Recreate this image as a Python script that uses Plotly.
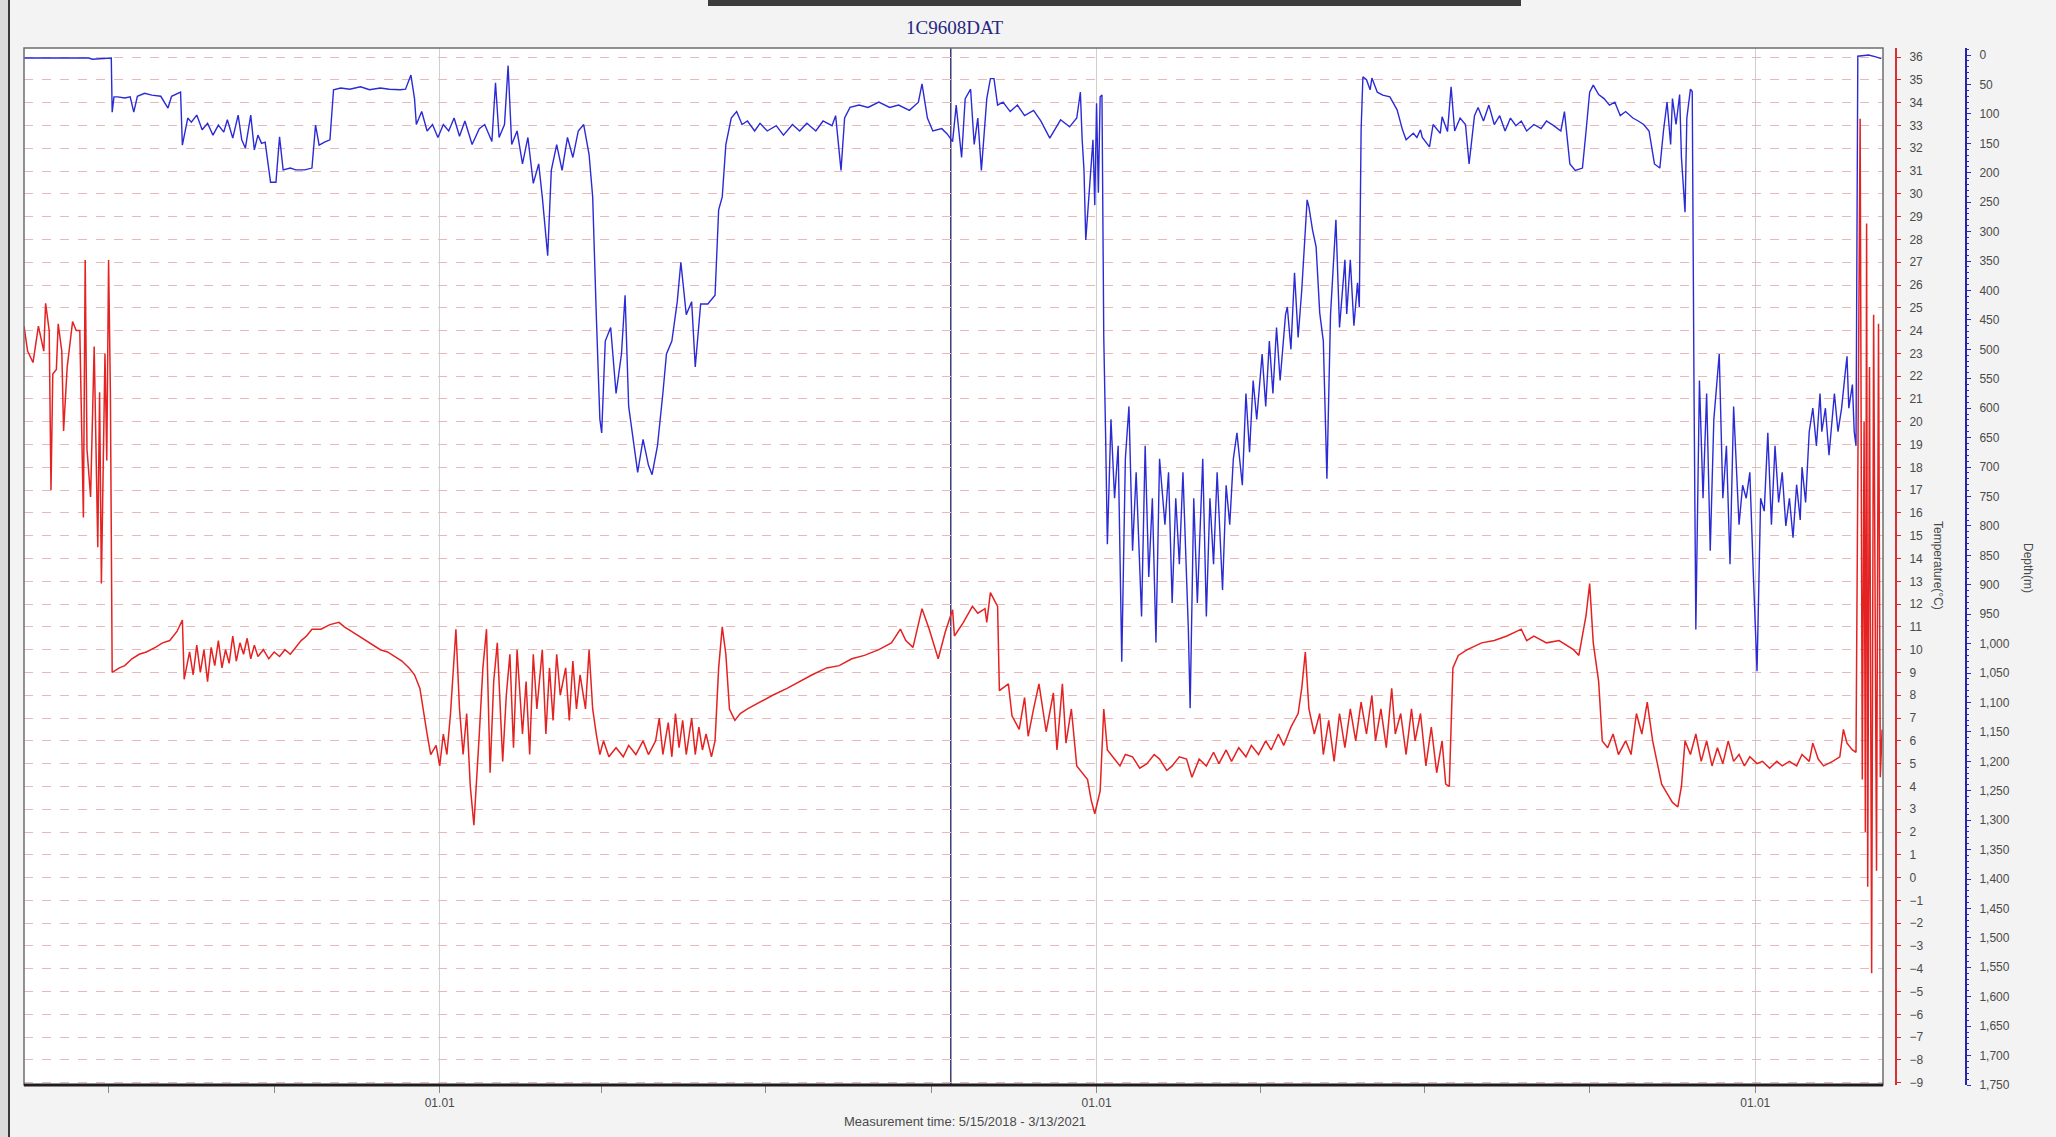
import pandas as pd
import plotly.graph_objects as go

# Measurement window
START = pd.Timestamp("2018-05-15")
END = pd.Timestamp("2021-03-13")
CURSOR_DATE = "2019-10-12"

# Depth log (days since start, metres)
depth_days = [
    0, 20, 36, 38, 42, 47, 48.5, 49, 50, 52, 56, 59, 61, 63, 67, 71, 76, 80, 82, 87,
    88, 91, 93, 96, 99, 102, 105, 108, 111, 113, 116, 119, 121, 123, 126, 128, 130, 132, 134, 137,
    140, 142, 144, 148, 151, 156, 160, 162, 164, 167, 170, 172, 176, 181, 187, 192, 198, 203, 209, 212,
    215, 217, 218, 221, 224, 227, 230, 233, 236, 239, 242, 245, 249, 253, 256, 260, 262, 264, 267, 269,
    271, 274, 277, 280, 283, 286, 288, 291, 293, 296, 299, 302, 305, 308, 311, 314, 316, 318, 320, 321,
    323, 326, 329, 332, 334, 336, 339, 341, 344, 347, 349, 352, 355, 357, 360, 363, 365, 368, 371, 373,
    376, 380, 384, 386, 388, 390, 393, 396, 399, 402, 406, 409, 413, 418, 422, 427, 431, 435, 440, 444,
    449, 451, 454, 456, 459, 464, 469, 475, 481, 486, 492, 497, 499, 502, 505, 510, 513, 516, 518, 521,
    523, 526, 528, 530, 532, 535, 537, 539, 541, 544, 548, 552, 556, 561, 565, 570, 576, 581, 585, 587,
    588, 589, 590, 592, 594, 595, 596, 597, 598, 599, 600, 601, 602, 604, 606, 608, 610, 612, 614, 616,
    618, 621, 623, 625, 627, 629, 631, 634, 636, 638, 640, 642, 644, 647, 648, 650, 652, 655, 657, 659,
    661, 663, 666, 668, 670, 672, 674, 677, 679, 681, 683, 685, 688, 690, 692, 694, 696, 698, 701, 702,
    704, 706, 708, 710, 713, 714, 716, 718, 720, 722, 724, 726, 729, 731, 733, 734, 735, 737, 739, 741,
    742, 743, 744, 746, 748, 749, 752, 755, 759, 763, 766, 768, 772, 774, 776, 777, 781, 783, 787, 788,
    791, 793, 795, 798, 801, 803, 806, 808, 811, 814, 817, 820, 823, 826, 829, 832, 835, 839, 843, 846,
    850, 854, 856, 859, 862, 866, 868, 870, 872, 875, 878, 881, 884, 887, 890, 894, 897, 900, 903, 906,
    909, 911, 913, 915, 916, 918, 920, 921, 923, 924, 926, 927, 928, 929, 931, 933, 935, 937, 939, 942,
    944, 946, 948, 950, 953, 955, 957, 959, 961, 963, 965, 967, 969, 971, 973, 975, 977, 979, 981, 983,
    985, 987, 988, 990, 992, 994, 996, 998, 999, 1001, 1003, 1005, 1006, 1008, 1010, 1012, 1013, 1014, 1016, 1017,
    1018, 1019, 1025, 1029, 1032,
]
depth_m = [
    5, 5, 5, 7, 6, 5, 5, 97, 71, 71, 73, 71, 97, 70, 65, 68, 70, 90, 70, 63,
    153, 107, 114, 102, 127, 116, 136, 119, 131, 110, 141, 102, 144, 158, 102, 161, 136, 150, 148, 216,
    216, 139, 195, 192, 195, 195, 192, 119, 153, 148, 144, 59, 56, 58, 54, 59, 56, 58, 59, 58,
    34, 74, 118, 96, 129, 118, 140, 118, 129, 107, 138, 112, 152, 125, 118, 147, 47, 140, 118, 18,
    152, 129, 185, 140, 218, 185, 241, 341, 196, 152, 196, 140, 174, 129, 118, 169, 241, 441, 619, 642,
    486, 463, 575, 508, 408, 597, 664, 709, 653, 697, 713, 664, 575, 508, 486, 419, 352, 441, 419, 530,
    423, 423, 408, 263, 241, 152, 107, 96, 118, 112, 129, 116, 129, 120, 136, 118, 129, 116, 129, 112,
    120, 103, 196, 107, 89, 85, 89, 80, 89, 85, 94, 80, 49, 107, 129, 125, 134, 147, 85, 174,
    74, 58, 152, 107, 196, 74, 40, 40, 85, 80, 96, 85, 103, 94, 112, 141, 110, 122, 107, 63,
    144, 195, 314, 234, 144, 255, 82, 234, 71, 68, 480, 642, 831, 619, 753, 664, 1031, 686, 597, 842,
    709, 954, 664, 887, 753, 998, 686, 798, 709, 931, 753, 865, 709, 976, 1110, 753, 931, 686, 954, 753,
    865, 709, 909, 731, 798, 686, 642, 731, 575, 675, 553, 619, 508, 597, 486, 575, 463, 553, 441, 428,
    500, 370, 480, 400, 246, 258, 297, 326, 438, 486, 720, 441, 280, 463, 394, 348, 440, 348, 460, 387,
    428, 127, 37, 42, 59, 39, 63, 68, 71, 93, 127, 144, 133, 140, 127, 140, 156, 118, 133, 105,
    130, 54, 129, 107, 118, 185, 103, 89, 112, 85, 118, 103, 129, 107, 120, 112, 129, 118, 125, 112,
    120, 129, 96, 185, 196, 192, 129, 63, 51, 67, 74, 85, 80, 103, 96, 107, 112, 118, 129, 185,
    192, 129, 80, 152, 74, 118, 67, 174, 267, 107, 58, 62, 575, 976, 553, 753, 575, 842, 619, 508,
    753, 664, 865, 597, 798, 731, 753, 709, 887, 1047, 753, 775, 642, 798, 664, 760, 709, 800, 753, 820,
    730, 790, 700, 760, 640, 600, 664, 575, 640, 600, 680, 610, 575, 640, 600, 540, 512, 600, 560, 640,
    664, 2, 0, 3, 6,
]

# Temperature log (days since start, degrees C)
temp_days = [
    0, 2, 5, 8, 11, 12, 14, 15, 16, 18, 19, 21, 22, 24, 27, 29, 31, 33, 34, 35,
    37, 39, 41, 42, 43, 45, 46, 47, 48, 49, 53, 56, 60, 64, 68, 73, 77, 81, 85, 88,
    89, 92, 94, 96, 98, 100, 102, 104, 106, 108, 110, 112, 114, 116, 118, 120, 122, 124, 126, 128,
    130, 133, 136, 139, 142, 145, 148, 151, 154, 157, 160, 165, 170, 175, 178, 182, 186, 190, 194, 198,
    202, 206, 210, 214, 217, 220, 222, 224, 226, 229, 231, 233, 235, 237, 240, 242, 244, 246, 248, 250,
    253, 255, 257, 259, 261, 263, 266, 268, 270, 272, 274, 277, 279, 281, 283, 285, 288, 290, 292, 294,
    296, 298, 301, 303, 305, 307, 309, 312, 314, 316, 318, 320, 322, 325, 329, 333, 336, 340, 344, 347,
    351, 353, 355, 358, 360, 362, 364, 366, 368, 371, 373, 375, 377, 379, 382, 384, 386, 388, 390, 392,
    395, 398, 402, 409, 416, 424, 431, 438, 446, 453, 460, 467, 475, 482, 487, 490, 494, 499, 503, 508,
    512, 516, 517, 522, 527, 530, 534, 535, 537, 541, 542, 547, 549, 553, 556, 558, 561, 564, 568, 572,
    574, 577, 579, 582, 585, 588, 591, 593, 595, 598, 600, 602, 605, 609, 612, 616, 620, 624, 628, 631,
    635, 638, 642, 646, 649, 653, 657, 661, 664, 668, 671, 675, 679, 682, 686, 690, 693, 697, 700, 704,
    708, 710, 712, 714, 717, 720, 722, 725, 728, 731, 734, 737, 740, 743, 746, 749, 751, 754, 757, 760,
    762, 765, 768, 771, 773, 776, 779, 782, 785, 788, 790, 792, 794, 797, 802, 810, 817, 824, 832, 835,
    839, 846, 853, 861, 864, 868, 870, 872, 875, 877, 880, 883, 886, 890, 893, 896, 899, 902, 905, 908,
    910, 913, 916, 919, 921, 923, 926, 929, 932, 935, 938, 941, 944, 947, 950, 953, 956, 959, 963, 966,
    970, 974, 977, 981, 985, 988, 992, 994, 997, 1000, 1005, 1009, 1011, 1013, 1016, 1018, 1020.3, 1021.5, 1022.5, 1023.2,
    1023.9, 1024.5, 1025.5, 1026.7, 1027.8, 1029.4, 1030.5, 1031.5, 1032.5,
]
temp_c = [
    24.2, 23.1, 22.6, 24.2, 23.1, 25.2, 24.0, 17.0, 22.1, 22.3, 24.3, 23.1, 19.6, 22.4, 24.4, 24.0, 24.0, 15.8, 27.1, 18.8,
    16.7, 23.3, 14.5, 21.3, 12.9, 23.0, 18.3, 27.1, 21.3, 9.0, 9.2, 9.3, 9.6, 9.8, 9.9, 10.1, 10.3, 10.4, 10.8, 11.3,
    8.7, 9.9, 8.9, 10.2, 9.0, 10.0, 8.6, 10.1, 9.3, 10.4, 9.2, 10.0, 9.4, 10.6, 9.5, 10.3, 9.8, 10.5, 9.6, 10.2,
    9.7, 10.0, 9.6, 9.9, 9.7, 10.0, 9.8, 10.1, 10.4, 10.6, 10.9, 10.9, 11.1, 11.2, 11.0, 10.8, 10.6, 10.4, 10.2, 10.0,
    9.9, 9.7, 9.5, 9.2, 8.9, 8.3, 7.2, 6.3, 5.4, 5.8, 4.9, 6.3, 5.4, 7.2, 10.9, 7.4, 5.4, 7.2, 4.0, 2.3,
    6.3, 9.2, 10.9, 4.6, 8.6, 10.3, 5.1, 8.0, 9.8, 5.7, 10.0, 6.3, 8.6, 5.4, 9.8, 7.4, 10.0, 6.3, 9.2, 6.9,
    9.8, 8.0, 9.2, 6.9, 9.5, 7.4, 8.9, 7.4, 10.0, 7.4, 6.3, 5.4, 6.0, 5.3, 5.7, 5.3, 5.8, 5.4, 6.0, 5.4,
    6.0, 7.0, 5.4, 6.8, 5.3, 7.2, 5.7, 6.9, 5.4, 7.0, 5.4, 6.6, 5.6, 6.3, 5.3, 6.0, 9.2, 11.0, 9.8, 7.4,
    6.9, 7.2, 7.4, 7.7, 8.0, 8.3, 8.6, 8.9, 9.2, 9.3, 9.6, 9.75, 10.0, 10.3, 10.9, 10.4, 10.1, 11.8, 10.9, 9.6,
    10.8, 11.75, 10.6, 11.2, 11.9, 11.6, 11.8, 11.2, 12.5, 11.9, 8.2, 8.5, 7.1, 6.5, 7.9, 6.2, 7.4, 8.5, 6.4, 8.1,
    5.6, 8.5, 5.9, 7.4, 4.9, 4.6, 4.3, 3.4, 2.8, 3.8, 7.4, 5.6, 5.3, 4.9, 5.4, 5.3, 4.8, 5.0, 5.4, 5.2,
    4.7, 4.9, 5.3, 5.2, 4.4, 5.2, 4.9, 5.5, 5.0, 5.6, 5.1, 5.7, 5.3, 5.8, 5.4, 6.0, 5.6, 6.3, 5.8, 6.6,
    7.2, 8.3, 9.9, 7.4, 6.3, 7.2, 5.4, 6.9, 5.1, 7.2, 5.7, 7.4, 6.0, 7.7, 6.3, 8.0, 6.0, 7.4, 5.7, 8.3,
    6.3, 7.2, 5.4, 7.4, 6.0, 7.2, 4.9, 6.6, 4.6, 6.0, 4.1, 4.0, 9.2, 9.75, 10.0, 10.3, 10.4, 10.6, 10.9, 10.4,
    10.6, 10.3, 10.4, 10.0, 9.75, 11.5, 12.9, 10.3, 8.6, 6.0, 5.7, 6.3, 5.4, 6.0, 5.4, 7.2, 6.3, 7.7, 6.0, 4.9,
    4.1, 3.7, 3.3, 3.1, 4.0, 6.0, 5.4, 6.3, 5.1, 6.0, 4.9, 5.7, 5.0, 6.0, 5.1, 5.4, 4.9, 5.3, 5.0, 5.1,
    4.8, 5.1, 4.9, 5.1, 4.9, 5.4, 5.1, 5.9, 5.2, 4.9, 5.1, 5.3, 6.5, 5.9, 5.6, 5.5, 33.3, 4.3, 20.0, 2.0,
    28.7, -0.4, 22.4, -4.2, 24.7, 0.3, 24.3, 4.4, 6.5,
]

# Axis tick values
temp_ticks = list(range(-9, 37))
depth_ticks = list(range(0, 1751, 50))

TITLE = "1C9608DAT"
X_TITLE = "Measurement time: 5/15/2018 - 3/13/2021"
TEMP_TITLE = "Temperature(°C)"
DEPTH_TITLE = "Depth(m)"


def to_dates(days):
    return [START + pd.Timedelta(days=d) for d in days]


W, H = 2056, 1137
TOP, BOTTOM = 48, 1085
PLOT_L, PLOT_R = 24, 1883
TEMP_AXIS_X, DEPTH_AXIS_X = 1896, 1966


def px_x(px):
    return px / W


def px_y(py):
    return (BOTTOM - py) / (BOTTOM - TOP)


BLUE = "#2b2bd6"
RED = "#e52222"
LABEL_FONT = dict(family="Liberation Sans, Arial, sans-serif", size=12, color="#4a4a4a")

fig = go.Figure()

fig.add_trace(go.Scatter(
    x=to_dates(depth_days), y=depth_m, mode="lines",
    line=dict(color=BLUE, width=1.4), yaxis="y", name="Depth",
))
fig.add_trace(go.Scatter(
    x=to_dates(temp_days), y=temp_c, mode="lines",
    line=dict(color=RED, width=1.5), yaxis="y2", name="Temperature",
))

fig.update_layout(
    width=W, height=H,
    margin=dict(l=0, r=0, t=TOP, b=H - BOTTOM, pad=0),
    paper_bgcolor="#f3f3f3",
    plot_bgcolor="#ffffff",
    showlegend=False,
    xaxis=dict(
        domain=[px_x(PLOT_L), px_x(PLOT_R)],
        type="date",
        range=[START, END],
        tickformat="%d.%m",
        tick0="2019-01-01",
        dtick="M12",
        ticks="outside", ticklen=7, tickcolor="#8a8a8a", tickwidth=1,
        showgrid=True, gridcolor="#cfcfcf", gridwidth=1,
        minor=dict(dtick="M3", tick0="2019-01-01", ticks="outside", ticklen=7,
                   tickcolor="#8a8a8a", showgrid=False),
        tickfont=LABEL_FONT,
        showline=False, zeroline=False, automargin=False,
        anchor="y",
    ),
    yaxis=dict(
        range=[1750, -12],
        anchor="free", position=px_x(DEPTH_AXIS_X), side="right",
        tickvals=depth_ticks, tickformat=",",
        ticks="outside", ticklen=4, tickcolor=BLUE, tickwidth=1,
        minor=dict(dtick=10, ticks="outside", ticklen=2, tickcolor=BLUE, showgrid=False),
        showline=True, linecolor="#2626a6", linewidth=2,
        showgrid=False, zeroline=False, automargin=False,
        tickfont=LABEL_FONT, ticklabelstandoff=6,
    ),
    yaxis2=dict(
        range=[-9.1, 36.4],
        overlaying="y",
        anchor="free", position=px_x(TEMP_AXIS_X), side="right",
        tickvals=temp_ticks,
        ticks="outside", ticklen=4, tickcolor=RED, tickwidth=1,
        showline=True, linecolor="#d83030", linewidth=2,
        showgrid=True, gridcolor="#e9b8b8", gridwidth=1, griddash="dash",
        zeroline=False, automargin=False,
        tickfont=LABEL_FONT, ticklabelstandoff=6,
    ),
)

shapes = [
    # window edge on the left
    dict(type="rect", xref="paper", yref="paper", x0=0, x1=px_x(8), y0=px_y(H), y1=px_y(0),
         fillcolor="#dcdcdc", line=dict(width=0), layer="below"),
    dict(type="line", xref="paper", yref="paper", x0=px_x(9), x1=px_x(9), y0=px_y(H), y1=px_y(0),
         line=dict(color="#3a3a3a", width=2)),
    # title bar remnant along the top edge
    dict(type="rect", xref="paper", yref="paper", x0=px_x(708), x1=px_x(1521), y0=px_y(6), y1=px_y(0),
         fillcolor="#3c3c3c", line=dict(width=0)),
    # cursor line
    dict(type="line", xref="x", yref="paper", x0=CURSOR_DATE, x1=CURSOR_DATE, y0=0, y1=1,
         line=dict(color="#20205a", width=1.3), layer="between"),
    # plot frame
    dict(type="rect", xref="paper", yref="paper", x0=px_x(PLOT_L), x1=px_x(PLOT_R), y0=0, y1=1,
         line=dict(color="#6e6e6e", width=1.5)),
    dict(type="line", xref="paper", yref="paper", x0=px_x(PLOT_L), x1=px_x(PLOT_R), y0=0, y1=0,
         line=dict(color="#1e1e1e", width=3)),
]
fig.update_layout(shapes=shapes)

annotations = [
    dict(text=TITLE, xref="paper", yref="paper", x=px_x(955), y=px_y(27),
         xanchor="center", yanchor="middle", showarrow=False,
         font=dict(family="Liberation Serif, Times New Roman, serif", size=19, color="#262680")),
    dict(text=X_TITLE, xref="paper", yref="paper", x=px_x(965), y=px_y(1121),
         xanchor="center", yanchor="middle", showarrow=False,
         font=dict(family="Liberation Sans Narrow, Liberation Sans, Arial, sans-serif", size=13, color="#4a4a4a")),
    dict(text=TEMP_TITLE, xref="paper", yref="paper", x=px_x(1938), y=px_y(565),
         xanchor="center", yanchor="middle", showarrow=False, textangle=90,
         font=dict(family="Liberation Sans, Arial, sans-serif", size=12, color="#4a4a4a")),
    dict(text=DEPTH_TITLE, xref="paper", yref="paper", x=px_x(2028), y=px_y(568),
         xanchor="center", yanchor="middle", showarrow=False, textangle=90,
         font=dict(family="Liberation Sans, Arial, sans-serif", size=12, color="#4a4a4a")),
]
fig.update_layout(annotations=annotations)

fig.write_html("out.html")
